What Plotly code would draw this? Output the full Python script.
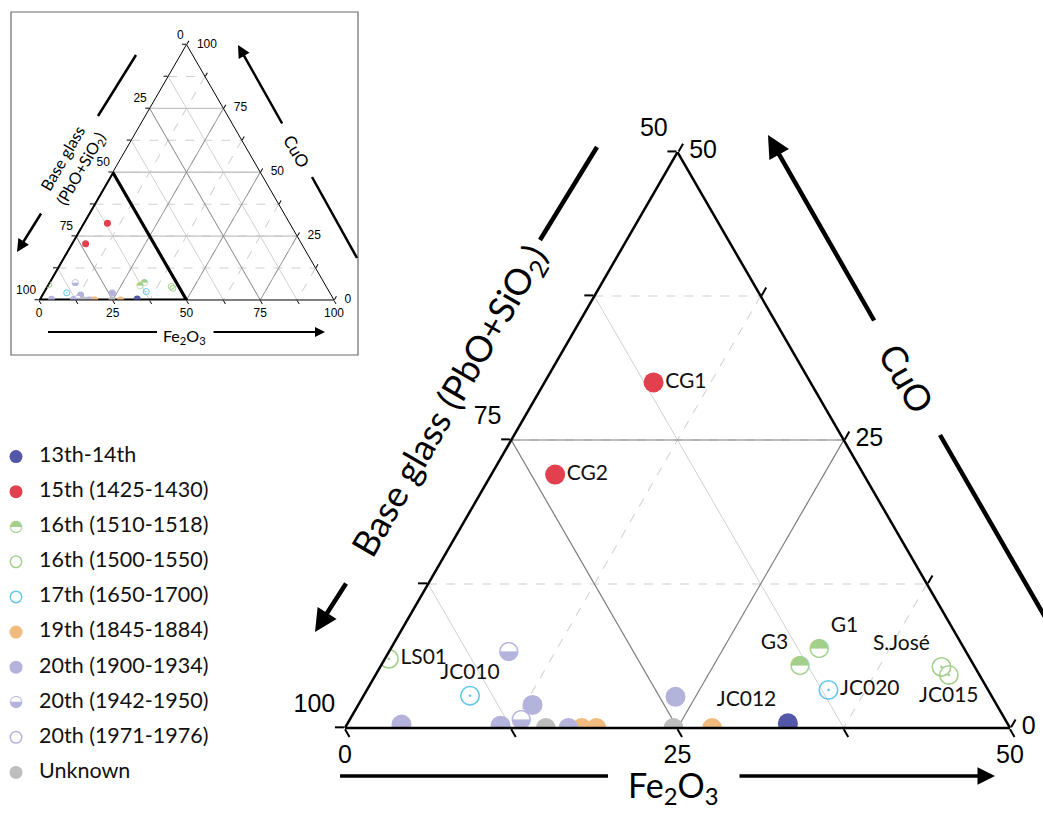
import plotly.graph_objects as go

W, H = 1043, 831

# ---- Sample compositions (wt%): CuO and Fe2O3; base glass (PbO+SiO2) is the remainder ----
lbl_13th = ["JC012"]
cuo_13th = [0.4]
fe_13th = [33.1]

lbl_15th = ["CG1", "CG2"]
cuo_15th = [30.0, 22.0]
fe_15th = [8.2, 4.8]

lbl_16a = ["G3", "G1"]
cuo_16a = [5.4, 6.9]
fe_16a = [31.5, 32.2]

lbl_16b = ["LS01", "S.José", "JC015"]
cuo_16b = [6.0, 5.3, 4.6]
fe_16b = [0.3, 42.2, 43.1]

lbl_17th = ["JC010", "JC020"]
cuo_17th = [2.8, 3.3]
fe_17th = [8.0, 34.7]

cuo_19th = [0.0, 0.0, 0.0]
fe_19th = [17.8, 18.9, 27.6]

cuo_20a = [0.3, 0.2, 2.0, 0.0, 2.7]
fe_20a = [4.1, 11.6, 13.1, 16.8, 23.5]

cuo_20b = [6.6, 0.7]
fe_20b = [9.0, 12.9]

cuo_20c = []
fe_20c = []

cuo_unk = [0.0, 0.0]
fe_unk = [15.1, 24.7]

legend_names = ["13th-14th", "15th (1425-1430)", "16th (1510-1518)", "16th (1500-1550)",
                "17th (1650-1700)", "19th (1845-1884)", "20th (1900-1934)",
                "20th (1942-1950)", "20th (1971-1976)", "Unknown"]

# ternary tick positions (a = CuO, b = base glass, c = Fe2O3)
main_a_ticks = [0, 12.5, 25, 37.5, 50]
main_b_ticks = [50, 62.5, 75, 87.5, 100]
main_c_ticks = [0, 12.5, 25, 37.5, 50]
full_ticks = [0, 12.5, 25, 37.5, 50, 62.5, 75, 87.5, 100]

# edge labels, each read as the oxide shown along that edge
main_left_base = [100, 75, 50]      # base glass along the left edge
main_bottom_fe = [0, 25, 50]        # Fe2O3 along the bottom edge
main_right_cuo = [0, 25, 50]        # CuO along the right edge
full_left_base = [100, 75, 50, 25, 0]
full_bottom_fe = [0, 25, 50, 75, 100]
full_right_cuo = [0, 25, 50, 75, 100]

# ---- styles ----
BLUE = "#5257a8"
RED = "#e2404f"
GREEN = "#a2d08b"
CYAN = "#62c6ee"
ORANGE = "#f1bb80"
LAV = "#b3b3dc"
GREY = "#bdbdbd"
HALF_TOP = "\u25D3"
HALF_LOW = "\u25D2"
LABEL_FONT = "Lato"
TICK_FONT = "Liberation Sans"

series = [
    # name, cuo, fe, color, kind, labels, label positions
    (legend_names[0], cuo_13th, fe_13th, BLUE, "fill", lbl_13th, ["top left"]),
    (legend_names[1], cuo_15th, fe_15th, RED, "fill", lbl_15th, ["middle right", "middle right"]),
    (legend_names[2], cuo_16a, fe_16a, GREEN, HALF_TOP, lbl_16a, ["top left", "top right"]),
    (legend_names[3], cuo_16b, fe_16b, GREEN, "open", lbl_16b, ["middle right", "top left", "bottom center"]),
    (legend_names[4], cuo_17th, fe_17th, CYAN, "open", lbl_17th, ["top center", "middle right"]),
    (legend_names[5], cuo_19th, fe_19th, ORANGE, "fill", None, None),
    (legend_names[6], cuo_20a, fe_20a, LAV, "fill", None, None),
    (legend_names[7], cuo_20b, fe_20b, LAV, HALF_LOW, None, None),
    (legend_names[8], cuo_20c, fe_20c, LAV, "open", None, None),
    (legend_names[9], cuo_unk, fe_unk, GREY, "fill", None, None),
]


def base(cuo, fe):
    return [100 - c - f for c, f in zip(cuo, fe)]


fig = go.Figure()


def tern_line(subplot, pts, color, width, dash="solid"):
    a, b, c = [], [], []
    for p in pts:
        if p is None:
            a.append(None); b.append(None); c.append(None)
        else:
            a.append(p[0]); b.append(p[1]); c.append(p[2])
    fig.add_trace(go.Scatterternary(a=a, b=b, c=c, mode="lines", subplot=subplot,
                                    line=dict(color=color, width=width, dash=dash),
                                    hoverinfo="skip", showlegend=False))


# major grid (25 % steps)
v = 25
tern_line("ternary", [(v, 100 - v, 0), (v, 50, 50 - v), (0, 100 - v, v), (v, 100 - v, 0)], "#808080", 1.2)

seg_h, seg_d = [], []
for v in (25, 50, 75):
    seg_h += [(v, 100 - v, 0), (v, 0, 100 - v), None]
    seg_d += [(100 - v, v, 0), (0, v, 100 - v), None]
    seg_d += [(100 - v, 0, v), (0, 100 - v, v), None]
tern_line("ternary2", seg_h, "#c4c4c4", 1.3)
tern_line("ternary2", seg_d, "#8a8a8a", 0.9)
# outline of the enlarged region
tern_line("ternary2", [(0, 100, 0), (50, 50, 0), (0, 50, 50), (0, 100, 0)], "black", 3.2)


def add_series(subplot, cuo, fe, color, kind, size, lw, glyph_size):
    if not cuo:
        return
    a, b, c = cuo, base(cuo, fe), fe
    if kind == "fill":
        fig.add_trace(go.Scatterternary(a=a, b=b, c=c, mode="markers", subplot=subplot,
                                        marker=dict(size=size, color=color, line=dict(width=0)),
                                        hoverinfo="skip", showlegend=False))
    elif kind == "open":
        fig.add_trace(go.Scatterternary(a=a, b=b, c=c, mode="markers", subplot=subplot,
                                        marker=dict(size=size - lw, symbol="circle-open-dot", color=color,
                                                    line=dict(width=lw, color=color)),
                                        hoverinfo="skip", showlegend=False))
    else:
        fig.add_trace(go.Scatterternary(a=a, b=b, c=c, mode="markers+text", subplot=subplot,
                                        marker=dict(size=size - 2, color="white", line=dict(width=0)),
                                        text=[kind] * len(a), textposition="middle center",
                                        textfont=dict(family="DejaVu Sans", size=glyph_size, color=color),
                                        hoverinfo="skip", showlegend=False))


for name, cuo, fe, color, kind, labels, pos in series:
    add_series("ternary", cuo, fe, color, kind, 20, 1.6, 25)
    add_series("ternary2", cuo, fe, color, kind, 7, 1.0, 9)

# sample labels
for name, cuo, fe, color, kind, labels, pos in series:
    if labels:
        fig.add_trace(go.Scatterternary(a=cuo, b=base(cuo, fe), c=fe, mode="markers+text",
                                        subplot="ternary", text=labels, textposition=pos,
                                        marker=dict(size=17, opacity=0),
                                        textfont=dict(family=LABEL_FONT, size=21, color="#111"),
                                        hoverinfo="skip", showlegend=False))


# edge tick labels, placed at the edge points through the ternary scales
def edge_labels(subplot, pts, texts, pos, gap, fs):
    fig.add_trace(go.Scatterternary(a=[p[0] for p in pts], b=[p[1] for p in pts], c=[p[2] for p in pts],
                                    mode="markers+text", subplot=subplot, text=texts, textposition=pos,
                                    marker=dict(size=gap, opacity=0), cliponaxis=False,
                                    textfont=dict(family=TICK_FONT, size=fs, color="black"),
                                    hoverinfo="skip", showlegend=False))


edge_labels("ternary", [(100 - g, g, 0) for g in main_left_base], [str(g) for g in main_left_base],
            "top left", 14, 25)
edge_labels("ternary", [(0, 100 - f, f) for f in main_bottom_fe], [str(f) for f in main_bottom_fe],
            "bottom center", 24, 25)
edge_labels("ternary", [(k, 50, 50 - k) for k in main_right_cuo], [str(k) for k in main_right_cuo],
            "middle right", 17, 25)

edge_labels("ternary2", [(100 - g, g, 0) for g in full_left_base], [str(g) for g in full_left_base],
            "top left", 3, 12)
edge_labels("ternary2", [(0, 100 - f, f) for f in full_bottom_fe], [str(f) for f in full_bottom_fe],
            "bottom center", 12, 12)
edge_labels("ternary2", [(k, 0, 100 - k) for k in full_right_cuo], [str(k) for k in full_right_cuo],
            "middle right", 15, 12)

# ---- legend drawn on a small hidden cartesian panel ----
for i, (name, cuo, fe, color, kind, labels, pos) in enumerate(series):
    if kind == "fill":
        fig.add_trace(go.Scatter(x=[16], y=[i], mode="markers", xaxis="x", yaxis="y",
                                 marker=dict(size=13, color=color), cliponaxis=False,
                                 hoverinfo="skip", showlegend=False))
    elif kind == "open":
        fig.add_trace(go.Scatter(x=[16], y=[i], mode="markers", xaxis="x", yaxis="y",
                                 marker=dict(size=11.5, symbol="circle-open", color=color,
                                             line=dict(width=1.5, color=color)),
                                 cliponaxis=False, hoverinfo="skip", showlegend=False))
    else:
        fig.add_trace(go.Scatter(x=[16], y=[i], mode="text", xaxis="x", yaxis="y",
                                 text=[kind], textposition="middle center",
                                 textfont=dict(family="DejaVu Sans", size=16, color=color),
                                 cliponaxis=False, hoverinfo="skip", showlegend=False))
fig.add_trace(go.Scatter(x=[39] * len(legend_names), y=list(range(len(legend_names))), mode="text",
                         text=legend_names, textposition="middle right", xaxis="x", yaxis="y",
                         textfont=dict(family=LABEL_FONT, size=21.5, color="#111"),
                         cliponaxis=False, hoverinfo="skip", showlegend=False))


def tax(vals, vmin, dash, tl, tw, lw):
    return dict(min=vmin, tickmode="array", tickvals=vals, showticklabels=False,
                ticks="outside", ticklen=tl, tickwidth=tw, tickcolor="black",
                linecolor="black", linewidth=lw, showline=True,
                showgrid=True, gridcolor="#d0d0d0", griddash=dash, gridwidth=1,
                title=dict(text=""))


def px(x):
    return x / W


def py(y):
    return 1 - y / H


fig.update_layout(
    width=W, height=H, margin=dict(l=0, r=0, t=0, b=0),
    paper_bgcolor="white", plot_bgcolor="white", showlegend=False,
    ternary=dict(sum=100, bgcolor="white",
                 domain=dict(x=[px(345), px(1010)], y=[py(728), py(152)]),
                 aaxis=tax(main_a_ticks, 0, "dash", 9, 2, 2.5),
                 baxis=tax(main_b_ticks, 50, "solid", 9, 2, 2.5),
                 caxis=tax(main_c_ticks, 0, "dash", 9, 2, 2.5)),
    ternary2=dict(sum=100, bgcolor="white",
                  domain=dict(x=[px(39), px(334)], y=[py(300), py(44.5)]),
                  aaxis=tax(full_ticks, 0, "dash", 4, 1, 1),
                  baxis=tax(full_ticks, 0, "solid", 4, 1, 1),
                  caxis=tax(full_ticks, 0, "dash", 4, 1, 1)),
    xaxis=dict(domain=[0, px(250)], range=[0, 250], visible=False, fixedrange=True),
    yaxis=dict(domain=[py(790), py(439)], range=[9.5, -0.5], visible=False, fixedrange=True),
)

# inset frame
fig.add_shape(type="rect", xref="paper", yref="paper", x0=px(11), x1=px(358), y0=py(355), y1=py(12),
              line=dict(color="#6a6a6a", width=1.2), fillcolor="rgba(0,0,0,0)", layer="below")


def seg(p0, p1, w):
    fig.add_shape(type="line", xref="paper", yref="paper", x0=px(p0[0]), y0=py(p0[1]),
                  x1=px(p1[0]), y1=py(p1[1]), line=dict(color="black", width=w))


def arrow(tail, head, w, size=1.0):
    fig.add_annotation(x=px(head[0]), y=py(head[1]), xref="paper", yref="paper",
                       ax=tail[0] - head[0], ay=tail[1] - head[1], axref="pixel", ayref="pixel",
                       showarrow=True, arrowhead=2, arrowsize=size, arrowwidth=w,
                       arrowcolor="black", text="")


def title(text, xy, angle, size):
    fig.add_annotation(x=px(xy[0]), y=py(xy[1]), xref="paper", yref="paper", text=text,
                       textangle=angle, showarrow=False, xanchor="center", yanchor="middle",
                       font=dict(family=LABEL_FONT, size=size, color="black"))


# main axis titles with arrows
seg((540, 240), (597, 147), 4.5)
arrow((347, 582), (315, 632), 4.5)
title("Base glass (PbO+SiO<sub>2</sub>)", (450, 401), -60, 36)

arrow((875, 322), (768, 135), 4.5)
seg((940, 435), (1060, 643), 4.5)
title("CuO", (907, 378), 60, 36)

seg((340, 776), (608, 776), 3.5)
arrow((738, 776), (995, 776), 3.5)
title("Fe<sub>2</sub>O<sub>3</sub>", (673, 787), 0, 34)

# inset axis titles with arrows
seg((98, 116), (136, 55), 2.5)
arrow((42, 212), (17, 252), 2.5)
title("Base glass<br>(PbO+SiO<sub>2</sub>)", (72, 164), -60, 16)

arrow((283, 125), (238, 45), 2.5)
seg((312, 177), (357, 258), 2.5)
title("CuO", (297, 151), 60, 17)

seg((48, 332), (157, 332), 2)
arrow((212, 332), (325, 332), 2)
title("Fe<sub>2</sub>O<sub>3</sub>", (184, 336), 0, 16)

fig.write_html("out.html")
